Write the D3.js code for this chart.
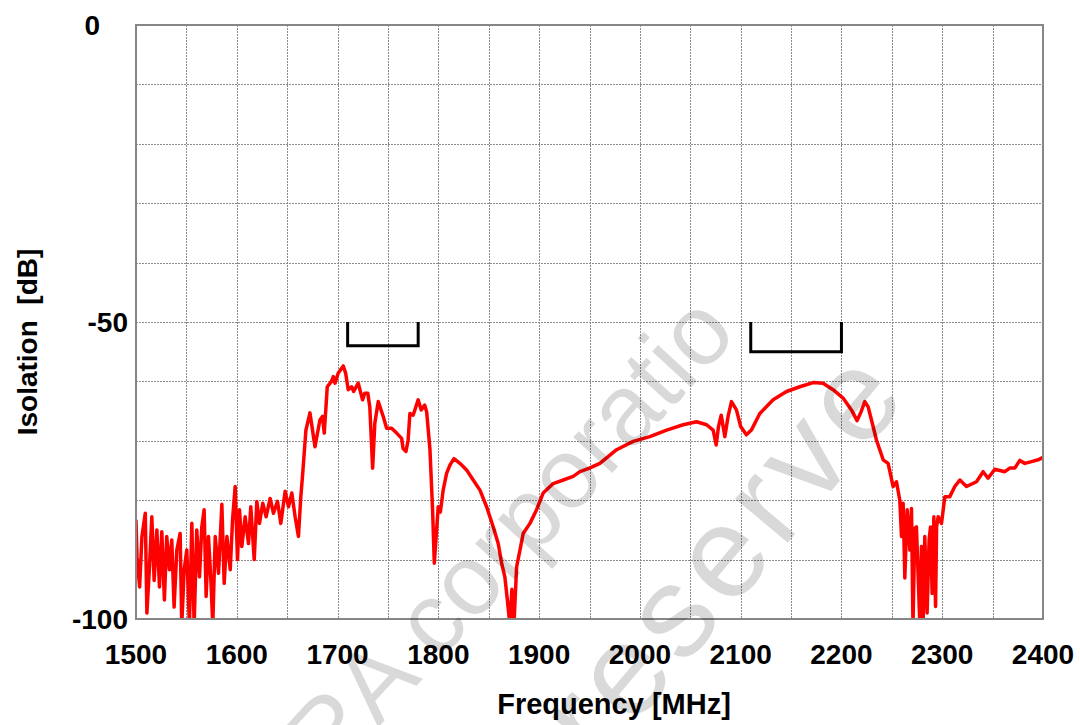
<!DOCTYPE html>
<html>
<head>
<meta charset="utf-8">
<script src="https://cdn.jsdelivr.net/npm/d3@7"></script>
<style>
  body { margin: 0; background: #fff; }
  text { font-family: "Liberation Sans", Arial, sans-serif; }
</style>
</head>
<body>
<div id="chart"></div>
<script>
// isolation curve
var freqMHz = [
  1500, 1501, 1503.6, 1505.9, 1509.2, 1510.8, 1513.4, 1515.7, 1518, 1520.7,
  1523.3, 1525.6, 1528.2, 1530.5, 1533.2, 1535.5, 1537.8, 1540.5, 1543.8, 1545.4,
  1547.8, 1550.4, 1553, 1555.4, 1557.7, 1560.3, 1563, 1565.3, 1567.6, 1569.6,
  1571.9, 1574.3, 1576.2, 1578.6, 1581.9, 1585.2, 1587.5, 1590.2, 1593.5, 1595.8,
  1598.4, 1600.7, 1602.7, 1605, 1608.3, 1611.6, 1613.9, 1617.3, 1619.9, 1622.5,
  1625.8, 1629.1, 1633.1, 1636.4, 1640.4, 1643.7, 1648, 1651.3, 1654.6, 1657.9,
  1661.2, 1663.5, 1665.5, 1668.6, 1672.6, 1677.6, 1682.5, 1685, 1686.8, 1689.8,
  1694, 1695.8, 1697.5, 1700.7, 1705.7, 1708, 1710.6, 1714, 1716, 1720.5,
  1724.8, 1727, 1730, 1732, 1734.8, 1737, 1740.4, 1745.3, 1748.7, 1753.7,
  1758.6, 1763.6, 1765, 1767.9, 1770, 1771.8, 1775, 1780, 1783, 1786.5,
  1788.4, 1791.7, 1794.3, 1796, 1798.3, 1799.9, 1802, 1804.8, 1808.2, 1811.5,
  1815.5, 1821.4, 1828, 1834.6, 1841.3, 1847.9, 1854.5, 1859.4, 1862.8, 1866,
  1868.5, 1871, 1873, 1875, 1877.7, 1881, 1884.2, 1890.9, 1897.5, 1904,
  1914, 1924, 1933.8, 1940.5, 1950, 1960.3, 1976.9, 1993.4, 2009.9, 2026.5,
  2043, 2056.2, 2066.2, 2072.7, 2075.7, 2078, 2080.7, 2084.3, 2087.5, 2090.9,
  2095.8, 2100, 2105.7, 2110.6, 2119, 2132.2, 2145.5, 2158.7, 2171.9, 2181.8,
  2191.7, 2201.6, 2209.9, 2215.5, 2219.5, 2223.2, 2226.5, 2231.4, 2234.8, 2241.4,
  2246.3, 2251.3, 2254.6, 2257.9, 2259.6, 2261.2, 2262.9, 2265.2, 2267.9, 2269.5,
  2271, 2272.8, 2274.4, 2277.8, 2279.4, 2281, 2282.7, 2285, 2287, 2288.4,
  2290, 2291.7, 2293.4, 2294.4, 2296, 2299.3, 2302.6, 2307.5, 2312.5, 2317.5,
  2324.1, 2334, 2340.6, 2345.5, 2352.2, 2362.1, 2367, 2372, 2377, 2382,
  2388.6, 2395.2, 2400
];
var isolationDb = [
  -83.3, -89.5, -94.6, -86.1, -82.2, -99, -91.2, -82.8, -93.5, -85,
  -94.6, -85.3, -96.8, -86.1, -91.7, -86.7, -98, -88.4, -85.6, -101,
  -91.7, -88.4, -101, -83.9, -101, -85, -92.9, -84.5, -81.6, -96.2,
  -86.1, -93.5, -101, -86.1, -92.3, -80.7, -94, -86.1, -91.7, -83.3,
  -77.7, -90, -81.6, -87.8, -82.8, -87.3, -81.1, -90, -80.2, -83.9,
  -80.5, -82.8, -79.7, -82.2, -80.2, -83.9, -78.5, -81.1, -78.8, -82.8,
  -86.1, -79.5, -75.3, -68.2, -65.3, -71, -66.5, -65.9, -68.7, -60.9,
  -60, -59.2, -60.3, -58.6, -57.4, -58.6, -61.4, -60.9, -61.7, -60.3,
  -63.1, -62, -62, -64.3, -74.6, -67, -63.4, -65.9, -67.9, -67.9,
  -68.7, -69.6, -71.3, -71.8, -69.9, -65.4, -65.7, -63.1, -64.8, -64,
  -65.1, -71.5, -81.6, -90.6, -85, -81.1, -82, -78.3, -75.5, -74.1,
  -73, -73.8, -74.9, -76.6, -78.3, -81.1, -84.5, -87.3, -90.6, -92.9,
  -96.8, -101, -95, -101, -91.2, -88.4, -85.6, -83.9, -81.6, -78.8,
  -77.2, -76.6, -76, -75.2, -74.6, -73.8, -71.5, -70.1, -69.3, -68.2,
  -67.3, -66.8, -67.3, -68.2, -70.7, -67.6, -65.7, -69.3, -65.9, -63.4,
  -64.8, -67.6, -69, -68.2, -65.4, -63.1, -61.7, -60.9, -60.2, -60.3,
  -61.4, -62.8, -64.8, -66.6, -65.1, -63.4, -64.3, -67.6, -69.9, -73.2,
  -73.8, -77.7, -76.9, -80, -86.1, -80.5, -93.1, -81.6, -88.4, -81.4,
  -101, -84.7, -84.5, -101, -87.8, -101, -86.1, -99, -86.7, -84.5,
  -95.7, -82.8, -97.9, -84.5, -82.8, -83.9, -79.4, -79.4, -77.7, -76.6,
  -77.7, -76.9, -75.2, -76.3, -74.8, -75.2, -74.6, -74.6, -73.3, -73.8,
  -73.5, -73.2, -72.8
];

// pass band markers (start, end, depth in dB)
var bandStart = [1710, 2110];
var bandEnd = [1780, 2200];
var bandBottom = [-54, -55];

var xTicks = [1500, 1600, 1700, 1800, 1900, 2000, 2100, 2200, 2300, 2400];
var yTicks = [0, -50, -100];

var width = 1080, height = 725;
var plotL = 136, plotR = 1043, plotT = 25, plotB = 619;

var svg = d3.select("#chart").append("svg")
    .attr("width", width)
    .attr("height", height);

var x = d3.scaleLinear().domain([1500, 2400]).range([plotL, plotR]);
var y = d3.scaleLinear().domain([-100, 0]).range([plotB, plotT]);

// grid
var grid = svg.append("g").attr("stroke", "#8c8c8c").attr("stroke-width", 1)
    .attr("stroke-dasharray", "2,1").attr("shape-rendering", "crispEdges");
grid.selectAll("line.v")
    .data(d3.range(1550, 2400, 50))
    .enter().append("line")
    .attr("x1", function(d){ return Math.round(x(d)) + 0.5; })
    .attr("x2", function(d){ return Math.round(x(d)) + 0.5; })
    .attr("y1", plotT).attr("y2", plotB);
grid.selectAll("line.h")
    .data(d3.range(-90, 0, 10))
    .enter().append("line")
    .attr("y1", function(d){ return Math.round(y(d)) + 0.5; })
    .attr("y2", function(d){ return Math.round(y(d)) + 0.5; })
    .attr("x1", plotL).attr("x2", plotR);

svg.append("clipPath").attr("id", "plotClip")
  .append("rect")
    .attr("x", plotL).attr("y", plotT)
    .attr("width", plotR - plotL).attr("height", plotB - plotT);

var points = freqMHz.map(function(f, i){ return [f, isolationDb[i]]; });

var line = d3.line()
    .x(function(d){ return x(d[0]); })
    .y(function(d){ return y(d[1]); });

svg.append("path")
    .datum(points)
    .attr("clip-path", "url(#plotClip)")
    .attr("fill", "none")
    .attr("stroke", "#ff0000")
    .attr("stroke-width", 3.5)
    .attr("stroke-linejoin", "round")
    .attr("d", line);

// band brackets
bandStart.forEach(function(s, i){
    svg.append("path")
        .datum([[s, -50], [s, bandBottom[i]], [bandEnd[i], bandBottom[i]], [bandEnd[i], -50]])
        .attr("fill", "none")
        .attr("stroke", "#000")
        .attr("stroke-width", 3)
        .attr("d", line);
});

// frame
svg.append("rect")
    .attr("x", plotL).attr("y", plotT)
    .attr("width", plotR - plotL).attr("height", plotB - plotT)
    .attr("fill", "none")
    .attr("stroke", "#868686")
    .attr("stroke-width", 2);

// tick labels
svg.selectAll("text.xt")
    .data(xTicks)
    .enter().append("text")
    .attr("x", function(d){ return x(d); })
    .attr("y", 664)
    .attr("text-anchor", "middle")
    .attr("font-size", 28)
    .attr("font-weight", "bold")
    .text(function(d){ return d; });

svg.selectAll("text.yt")
    .data(yTicks)
    .enter().append("text")
    .attr("x", function(d){ return d === 0 ? 100 : 128; })
    .attr("y", function(d){ return y(d) + 10; })
    .attr("text-anchor", "end")
    .attr("font-size", 28)
    .attr("font-weight", "bold")
    .text(function(d){ return d; });

svg.append("text")
    .attr("x", 614).attr("y", 714)
    .attr("text-anchor", "middle")
    .attr("font-size", 29)
    .attr("font-weight", "bold")
    .text("Frequency [MHz]");

svg.append("text")
    .attr("transform", "translate(37,342) rotate(-90)")
    .attr("text-anchor", "middle")
    .attr("font-size", 28)
    .attr("font-weight", "bold")
    .style("white-space", "pre")
    .text("Isolation  [dB]");

// watermark
var wm = svg.append("g").attr("fill", "#000").attr("fill-opacity", 0.15);
wm.append("text")
    .attr("transform", "translate(442,658) rotate(-47.4)")
    .attr("font-size", 100)
    .attr("x", -517)
    .text("KYOCERA corporatio");
wm.append("text")
    .attr("transform", "translate(599,768) rotate(-50)")
    .attr("font-size", 130)
    .attr("letter-spacing", 8)
    .attr("x", 0)
    .text("reserve");
</script>
</body>
</html>
